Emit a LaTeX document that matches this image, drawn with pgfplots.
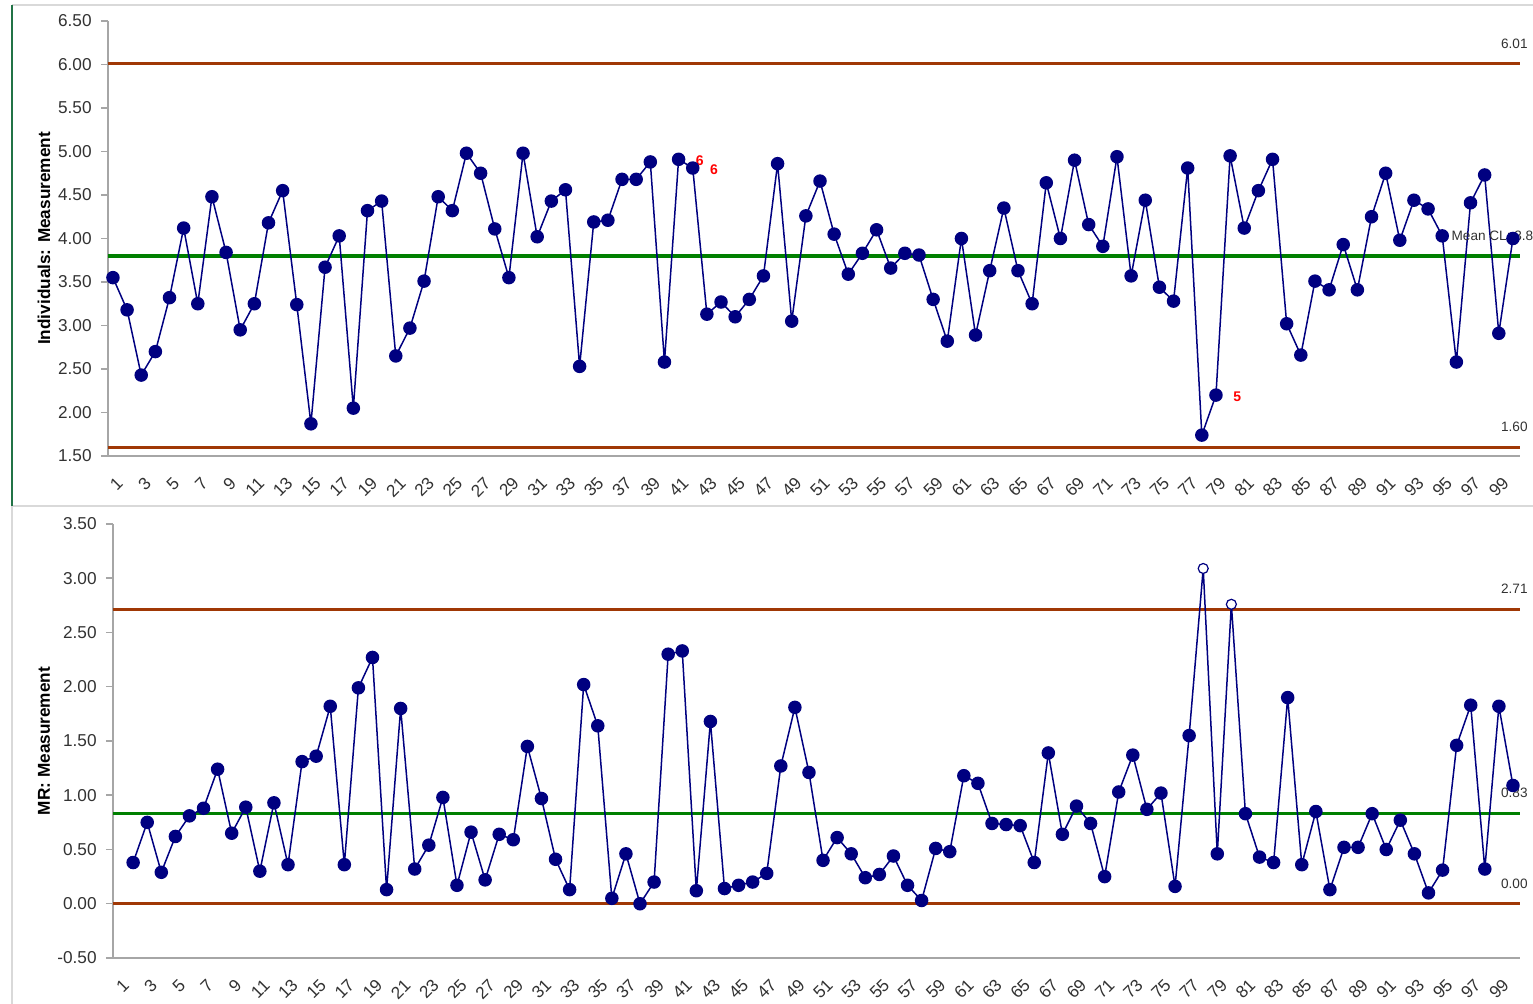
\documentclass[border=0pt]{standalone}
\usepackage{pgfplots}
\usepackage{pgfplotstable}
\pgfplotsset{compat=1.18}
\usepackage{fontspec}
\setmainfont{Liberation Sans}
\definecolor{navy}{RGB}{0,0,128}
\definecolor{limbrown}{RGB}{160,56,5}
\definecolor{clgreen}{RGB}{0,128,0}
\definecolor{axgray}{RGB}{166,166,166}
\definecolor{framegray}{RGB}{217,217,217}
\definecolor{framegreen}{RGB}{33,115,70}
\definecolor{txt}{RGB}{50,50,50}

\pgfplotstableread{
x y
1 3.55
2 3.18
3 2.43
4 2.70
5 3.32
6 4.12
7 3.25
8 4.48
9 3.84
10 2.95
11 3.25
12 4.18
13 4.55
14 3.24
15 1.87
16 3.67
17 4.03
18 2.05
19 4.32
20 4.43
21 2.65
22 2.97
23 3.51
24 4.48
25 4.32
26 4.98
27 4.75
28 4.11
29 3.55
30 4.98
31 4.02
32 4.43
33 4.56
34 2.53
35 4.19
36 4.21
37 4.68
38 4.68
39 4.88
40 2.58
41 4.91
42 4.81
43 3.13
44 3.27
45 3.10
46 3.30
47 3.57
48 4.86
49 3.05
50 4.26
51 4.66
52 4.05
53 3.59
54 3.83
55 4.10
56 3.66
57 3.83
58 3.81
59 3.30
60 2.82
61 4.00
62 2.89
63 3.63
64 4.35
65 3.63
66 3.25
67 4.64
68 4.00
69 4.90
70 4.16
71 3.91
72 4.94
73 3.57
74 4.44
75 3.44
76 3.28
77 4.81
78 1.74
79 2.20
80 4.95
81 4.12
82 4.55
83 4.91
84 3.02
85 2.66
86 3.51
87 3.41
88 3.93
89 3.41
90 4.25
91 4.75
92 3.98
93 4.44
94 4.34
95 4.03
96 2.58
97 4.41
98 4.73
99 2.91
100 4.00
}\indiv

\pgfplotstableread{
x y c
2 0.38 a
3 0.75 a
4 0.29 a
5 0.62 a
6 0.81 a
7 0.88 a
8 1.24 a
9 0.65 a
10 0.89 a
11 0.30 a
12 0.93 a
13 0.36 a
14 1.31 a
15 1.36 a
16 1.82 a
17 0.36 a
18 1.99 a
19 2.27 a
20 0.13 a
21 1.80 a
22 0.32 a
23 0.54 a
24 0.98 a
25 0.17 a
26 0.66 a
27 0.22 a
28 0.64 a
29 0.59 a
30 1.45 a
31 0.97 a
32 0.41 a
33 0.13 a
34 2.02 a
35 1.64 a
36 0.05 a
37 0.46 a
38 0.00 a
39 0.20 a
40 2.30 a
41 2.33 a
42 0.12 a
43 1.68 a
44 0.14 a
45 0.17 a
46 0.20 a
47 0.28 a
48 1.27 a
49 1.81 a
50 1.21 a
51 0.40 a
52 0.61 a
53 0.46 a
54 0.24 a
55 0.27 a
56 0.44 a
57 0.17 a
58 0.03 a
59 0.51 a
60 0.48 a
61 1.18 a
62 1.11 a
63 0.74 a
64 0.73 a
65 0.72 a
66 0.38 a
67 1.39 a
68 0.64 a
69 0.90 a
70 0.74 a
71 0.25 a
72 1.03 a
73 1.37 a
74 0.87 a
75 1.02 a
76 0.16 a
77 1.55 a
78 3.09 b
79 0.46 a
80 2.76 b
81 0.83 a
82 0.43 a
83 0.38 a
84 1.90 a
85 0.36 a
86 0.85 a
87 0.13 a
88 0.52 a
89 0.52 a
90 0.83 a
91 0.50 a
92 0.77 a
93 0.46 a
94 0.10 a
95 0.31 a
96 1.46 a
97 1.83 a
98 0.32 a
99 1.82 a
100 1.09 a
}\mr

\pgfplotsset{
  spc/.style={
    scale only axis,
    clip=false,
    axis x line*=bottom,
    axis y line*=left,
    axis line style={axgray, line width=0.75pt},
    xmax=100.5,
    xtick={1,3,...,99},
    xtick style={draw=none},
    ytick style={axgray, line width=0.75pt},
    tick align=outside,
    major tick length=3.5pt,
    /pgf/number format/assume math mode=true,
    tick label style={font=\fontsize{8.6}{10}\selectfont, text=txt},
    x tick label style={rotate=45, anchor=east, inner sep=0pt, yshift=-8.5pt, xshift=-3.5pt},
    y tick label style={anchor=east, inner sep=0pt, xshift=-4.5pt,
      /pgf/number format/fixed, /pgf/number format/fixed zerofill, /pgf/number format/precision=2},
    ylabel style={font=\bfseries\fontsize{8.6}{10}\selectfont, text=black, anchor=center},
  },
  lim/.style={limbrown, line width=1.6pt, no marks},
  cl/.style={clgreen, line width=1.8pt, no marks},
}
\tikzset{
  lbl/.style={font=\fontsize{6.8}{8}\selectfont, text=txt, inner sep=0pt},
  rlbl/.style={font=\bfseries\fontsize{7}{8}\selectfont, text=red, inner sep=0pt},
}

\begin{document}
\begin{tikzpicture}
\useasboundingbox (0pt,0pt) rectangle (766.5pt,-502pt);
\draw[framegray, line width=1pt] (6pt,-2.5pt) -- (766.5pt,-2.5pt);
\draw[framegray, line width=1pt] (6pt,-253pt) -- (766.5pt,-253pt);
\draw[framegray, line width=1pt] (6pt,-253pt) -- (6pt,-502pt);
\draw[framegreen, line width=1pt] (6pt,-2.5pt) -- (6pt,-253pt);

\begin{axis}[spc,
  at={(54pt,-228pt)}, anchor=south west,
  width=706pt, height=217.5pt,
  xmin=0.65, ymin=1.5, ymax=6.5,
  ytick={1.5,2,2.5,3,3.5,4,4.5,5,5.5,6,6.5},
  ylabel={Individuals: Measurement},
  ylabel style={at={(axis description cs:-0.0453,0.5)}},
]
\addplot[lim] coordinates {(0.65,6.01) (100.5,6.01)};
\addplot[lim] coordinates {(0.65,1.60) (100.5,1.60)};
\addplot[cl] coordinates {(0.65,3.80) (100.5,3.80)};
\addplot[navy, line width=0.75pt, mark=*, mark size=3pt, mark options={fill=navy, draw=navy}] table[x=x,y=y] {\indiv};
\node[lbl, anchor=east, xshift=4pt, yshift=10pt] at (axis cs:100.5,6.01) {6.01};
\node[lbl, anchor=east, xshift=4pt, yshift=10pt] at (axis cs:100.5,1.60) {1.60};
\node[lbl, anchor=west, xshift=4.5pt, yshift=10pt] at (axis cs:95,3.80) {Mean CL: 3.8};
\node[rlbl] at (axis cs:42.5,4.89) {6};
\node[rlbl] at (axis cs:43.5,4.79) {6};
\node[rlbl] at (axis cs:80.5,2.18) {5};
\end{axis}

\begin{axis}[spc,
  at={(56.5pt,-479pt)}, anchor=south west,
  width=703.5pt, height=217pt,
  xmin=0.57, ymin=-0.5, ymax=3.5,
  ytick={-0.5,0,0.5,1,1.5,2,2.5,3,3.5},
  ylabel={MR: Measurement},
  ylabel style={at={(axis description cs:-0.049,0.5)}},
]
\addplot[lim] coordinates {(0.57,2.71) (100.5,2.71)};
\addplot[lim] coordinates {(0.57,0) (100.5,0)};
\addplot[cl] coordinates {(0.57,0.83) (100.5,0.83)};
\addplot[navy, line width=0.75pt, scatter, scatter src=explicit symbolic,
  scatter/classes={a={mark=*, mark size=3pt, draw=navy, fill=navy},
                   b={mark=*, mark size=2.5pt, draw=navy, fill=white, line width=0.6pt}}]
  table[x=x,y=y,meta=c] {\mr};
\node[lbl, anchor=east, xshift=4pt, yshift=10.5pt] at (axis cs:100.5,2.71) {2.71};
\node[lbl, anchor=east, xshift=4pt, yshift=10.5pt] at (axis cs:100.5,0.83) {0.83};
\node[lbl, anchor=east, xshift=4pt, yshift=10pt] at (axis cs:100.5,0) {0.00};
\end{axis}
\end{tikzpicture}
\end{document}
